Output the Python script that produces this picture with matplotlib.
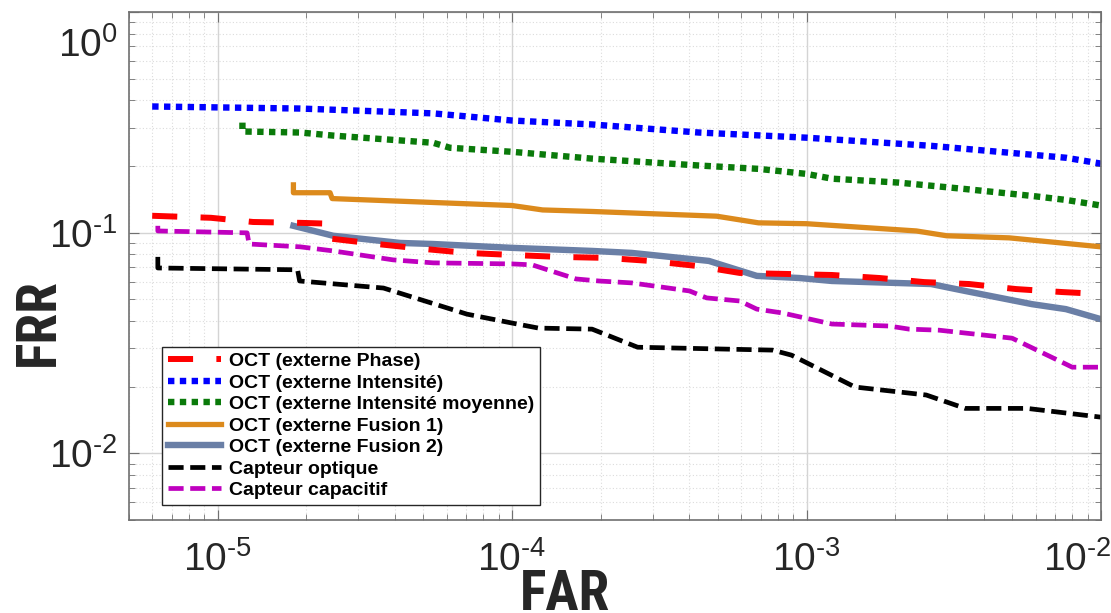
import matplotlib
matplotlib.use("Agg")
import matplotlib.pyplot as plt
import matplotlib.transforms as mtransforms
from matplotlib import font_manager
from matplotlib.ticker import LogLocator, NullFormatter

# FAR / FRR curves
far_phase = [6.0e-6, 9.5e-6, 1.32e-5, 1.91e-5, 2.41e-5, 2.45e-5, 3.48e-5, 4.99e-5, 7.03e-5, 1.0e-4,
             1.44e-4, 2.08e-4, 2.94e-4, 4.24e-4, 5.93e-4, 8.55e-4, 1.22e-3, 1.77e-3, 2.51e-3,
             3.57e-3, 5.15e-3, 7.38e-3, 1.0e-2]
frr_phase = [0.1195, 0.117, 0.112, 0.111, 0.110, 0.094, 0.089, 0.0846, 0.0811, 0.0794,
             0.0778, 0.077, 0.0746, 0.0708, 0.0658, 0.0651, 0.0644, 0.0624, 0.0598,
             0.0586, 0.0556, 0.0539, 0.0528]

far_int = [6.0e-6, 1.91e-5, 5.4e-5, 1.0e-4, 1.87e-4, 4.3e-4, 1.0e-3, 2.65e-3, 4.5e-3, 7.6e-3, 1.0e-2]
frr_int = [0.374, 0.366, 0.348, 0.323, 0.31, 0.285, 0.27, 0.248, 0.233, 0.219, 0.206]

far_moy = [1.215e-5, 1.215e-5, 1.91e-5, 2.47e-5, 5.4e-5, 6.16e-5, 1.0e-4, 1.87e-4, 4.3e-4, 6.87e-4,
           1.0e-3, 1.22e-3, 2.05e-3, 3.46e-3, 5.83e-3, 7.6e-3, 1.0e-2]
frr_moy = [0.316, 0.288, 0.285, 0.276, 0.256, 0.243, 0.233, 0.217, 0.202, 0.195,
           0.185, 0.176, 0.169, 0.158, 0.147, 0.141, 0.133]

far_f1 = [1.81e-5, 1.81e-5, 2.41e-5, 2.45e-5, 1.0e-4, 1.27e-4, 1.87e-4, 4.95e-4, 6.87e-4, 1.0e-3,
          2.36e-3, 2.99e-3, 4.88e-3, 1.0e-2]
frr_f1 = [0.165, 0.152, 0.152, 0.143, 0.133, 0.127, 0.125, 0.119, 0.111, 0.110,
          0.102, 0.097, 0.0949, 0.0864]

far_f2 = [1.81e-5, 2.47e-5, 4.17e-5, 5.4e-5, 1.0e-4, 1.87e-4, 2.55e-4, 4.66e-4, 6.78e-4, 9.46e-4,
          1.22e-3, 2.65e-3, 3.46e-3, 5.83e-3, 7.6e-3, 1.0e-2]
frr_f2 = [0.1076, 0.097, 0.090, 0.089, 0.0855, 0.0828, 0.0811, 0.0746, 0.0638, 0.0624,
          0.0605, 0.0586, 0.0545, 0.0475, 0.0451, 0.0406]

far_opt = [6.27e-6, 6.27e-6, 1.87e-5, 1.9e-5, 3.66e-5, 7.03e-5, 1.0e-4, 1.23e-4, 1.87e-4, 2.67e-4,
           7.67e-4, 8.89e-4, 1.46e-3, 2.55e-3, 3.46e-3, 5.61e-3, 1.0e-2]
frr_opt = [0.0778, 0.0693, 0.068, 0.0605, 0.0562, 0.0428, 0.039, 0.037, 0.0366, 0.0303,
           0.0294, 0.0279, 0.020, 0.0184, 0.016, 0.016, 0.0146]

far_cap = [6.27e-6, 6.27e-6, 1.26e-5, 1.28e-5, 1.91e-5, 2.47e-5, 3.95e-5, 5.4e-5, 1.0e-4, 1.17e-4,
           1.65e-4, 1.97e-4, 2.55e-4, 4.01e-4, 4.58e-4, 5.93e-4, 6.78e-4, 8.3e-4, 1.22e-3, 1.91e-3,
           2.23e-3, 2.82e-3, 4.99e-3, 7.6e-3, 7.98e-3, 1.0e-2]
frr_cap = [0.1076, 0.102, 0.100, 0.089, 0.0864, 0.0828, 0.0754, 0.0731, 0.0723, 0.0716,
           0.0618, 0.0605, 0.0593, 0.0545, 0.0507, 0.0491, 0.0451, 0.0433, 0.0386, 0.0378,
           0.0366, 0.0362, 0.0333, 0.0254, 0.0246, 0.0246]

labels = ["OCT (externe Phase)", "OCT (externe Intensité)", "OCT (externe Intensité moyenne)",
          "OCT (externe Fusion 1)", "OCT (externe Fusion 2)", "Capteur optique", "Capteur capacitif"]

xticks = [1e-5, 1e-4, 1e-3, 1e-2]
xtick_labels = [r"$\mathdefault{10^{\text{-}5}}$", r"$\mathdefault{10^{\text{-}4}}$",
                r"$\mathdefault{10^{\text{-}3}}$", r"$\mathdefault{10^{\text{-}2}}$"]
yticks = [1e-2, 1e-1, 1e0]
ytick_labels = [r"$\mathdefault{10^{\text{-}2}}$", r"$\mathdefault{10^{\text{-}1}}$",
                r"$\mathdefault{10^{0}}$"]

names = {f.name for f in font_manager.fontManager.ttflist}
narrow = "Liberation Sans"
for cand in ["Liberation Sans Narrow", "DejaVu Sans Condensed", "Roboto Condensed"]:
    if cand in names:
        narrow = cand
        break
plt.rcParams["font.family"] = ["Liberation Sans", "DejaVu Sans"]
plt.rcParams["mathtext.fontset"] = "custom"
plt.rcParams["mathtext.rm"] = "Liberation Sans"

fig = plt.figure(figsize=(11.11, 6.13), dpi=100)
ax = fig.add_axes([0.116, 0.152, 0.875, 0.828])

ax.plot(far_phase, frr_phase, color="#ff0000", lw=4.3, dashes=(4.2, 3.9), zorder=5, label=labels[0])
ax.plot(far_int, frr_int, color="#0000ff", lw=4.6, dashes=(1, 0.85), label=labels[1])
ax.plot(far_moy, frr_moy, color="#0a7a0a", lw=4.6, dashes=(1, 0.85), label=labels[2])
ax.plot(far_f1, frr_f1, color="#dc8a1c", lw=3.8, label=labels[3])
ax.plot(far_f2, frr_f2, color="#6a7fa6", lw=4.6, label=labels[4])
ax.plot(far_opt, frr_opt, color="black", lw=3.4, dashes=(3.2, 1.4), label=labels[5])
ax.plot(far_cap, frr_cap, color="#bf00bf", lw=3.4, dashes=(3.2, 1.4), label=labels[6])

ax.set_xscale("log")
ax.set_yscale("log")
ax.set_xlim(5e-6, 1e-2)
ax.set_ylim(5e-3, 1.0)
ax.set_xticks(xticks, xtick_labels)
ax.set_yticks(yticks, ytick_labels)
ax.xaxis.set_minor_locator(LogLocator(base=10, subs=range(2, 10), numticks=20))
ax.yaxis.set_minor_locator(LogLocator(base=10, subs=range(2, 10), numticks=20))
ax.xaxis.set_minor_formatter(NullFormatter())
ax.yaxis.set_minor_formatter(NullFormatter())

ax.grid(which="major", color="#d4d4d4", lw=1.0, ls="-")
ax.grid(which="minor", color="#dcdcdc", lw=0.8, ls=(0, (1, 2)))
ax.set_axisbelow(True)
for s in ax.spines.values():
    s.set_color("#707070")
    s.set_linewidth(1.2)
ax.tick_params(which="both", direction="in", top=True, right=True, colors="#707070")
ax.tick_params(which="major", length=7, labelsize=28, labelcolor="#262626")
ax.tick_params(axis="x", which="major", pad=15)
ax.tick_params(axis="y", which="major", pad=8)
ax.tick_params(which="minor", length=4)

# the outer tick labels sit inside the figure, as in the reference
xt = ax.xaxis.get_major_ticks()[-1].label1
xt.set_transform(xt.get_transform() + mtransforms.ScaledTranslation(-0.24, 0, fig.dpi_scale_trans))
yt = ax.yaxis.get_major_ticks()[-1].label1
yt.set_transform(yt.get_transform() + mtransforms.ScaledTranslation(0, -0.30, fig.dpi_scale_trans))

ax.set_xlabel("FAR", fontsize=40, fontweight="bold", family=narrow, color="#262626")
ax.set_ylabel("FRR", fontsize=40, fontweight="bold", family=narrow, color="#262626")
ax.xaxis.set_label_coords(0.449, -0.096)
ax.yaxis.set_label_coords(-0.066, 0.39)

leg = ax.legend(loc="upper left", bbox_to_anchor=(0.034, 0.341), borderaxespad=0,
                prop={"weight": "bold", "size": 14}, handlelength=2.75, handletextpad=0.42,
                labelspacing=0.2, borderpad=0.3, fancybox=False, framealpha=1)
leg.get_frame().set_edgecolor("#262626")
leg.get_frame().set_linewidth(1.0)

fig.savefig("out.png", dpi=100)
